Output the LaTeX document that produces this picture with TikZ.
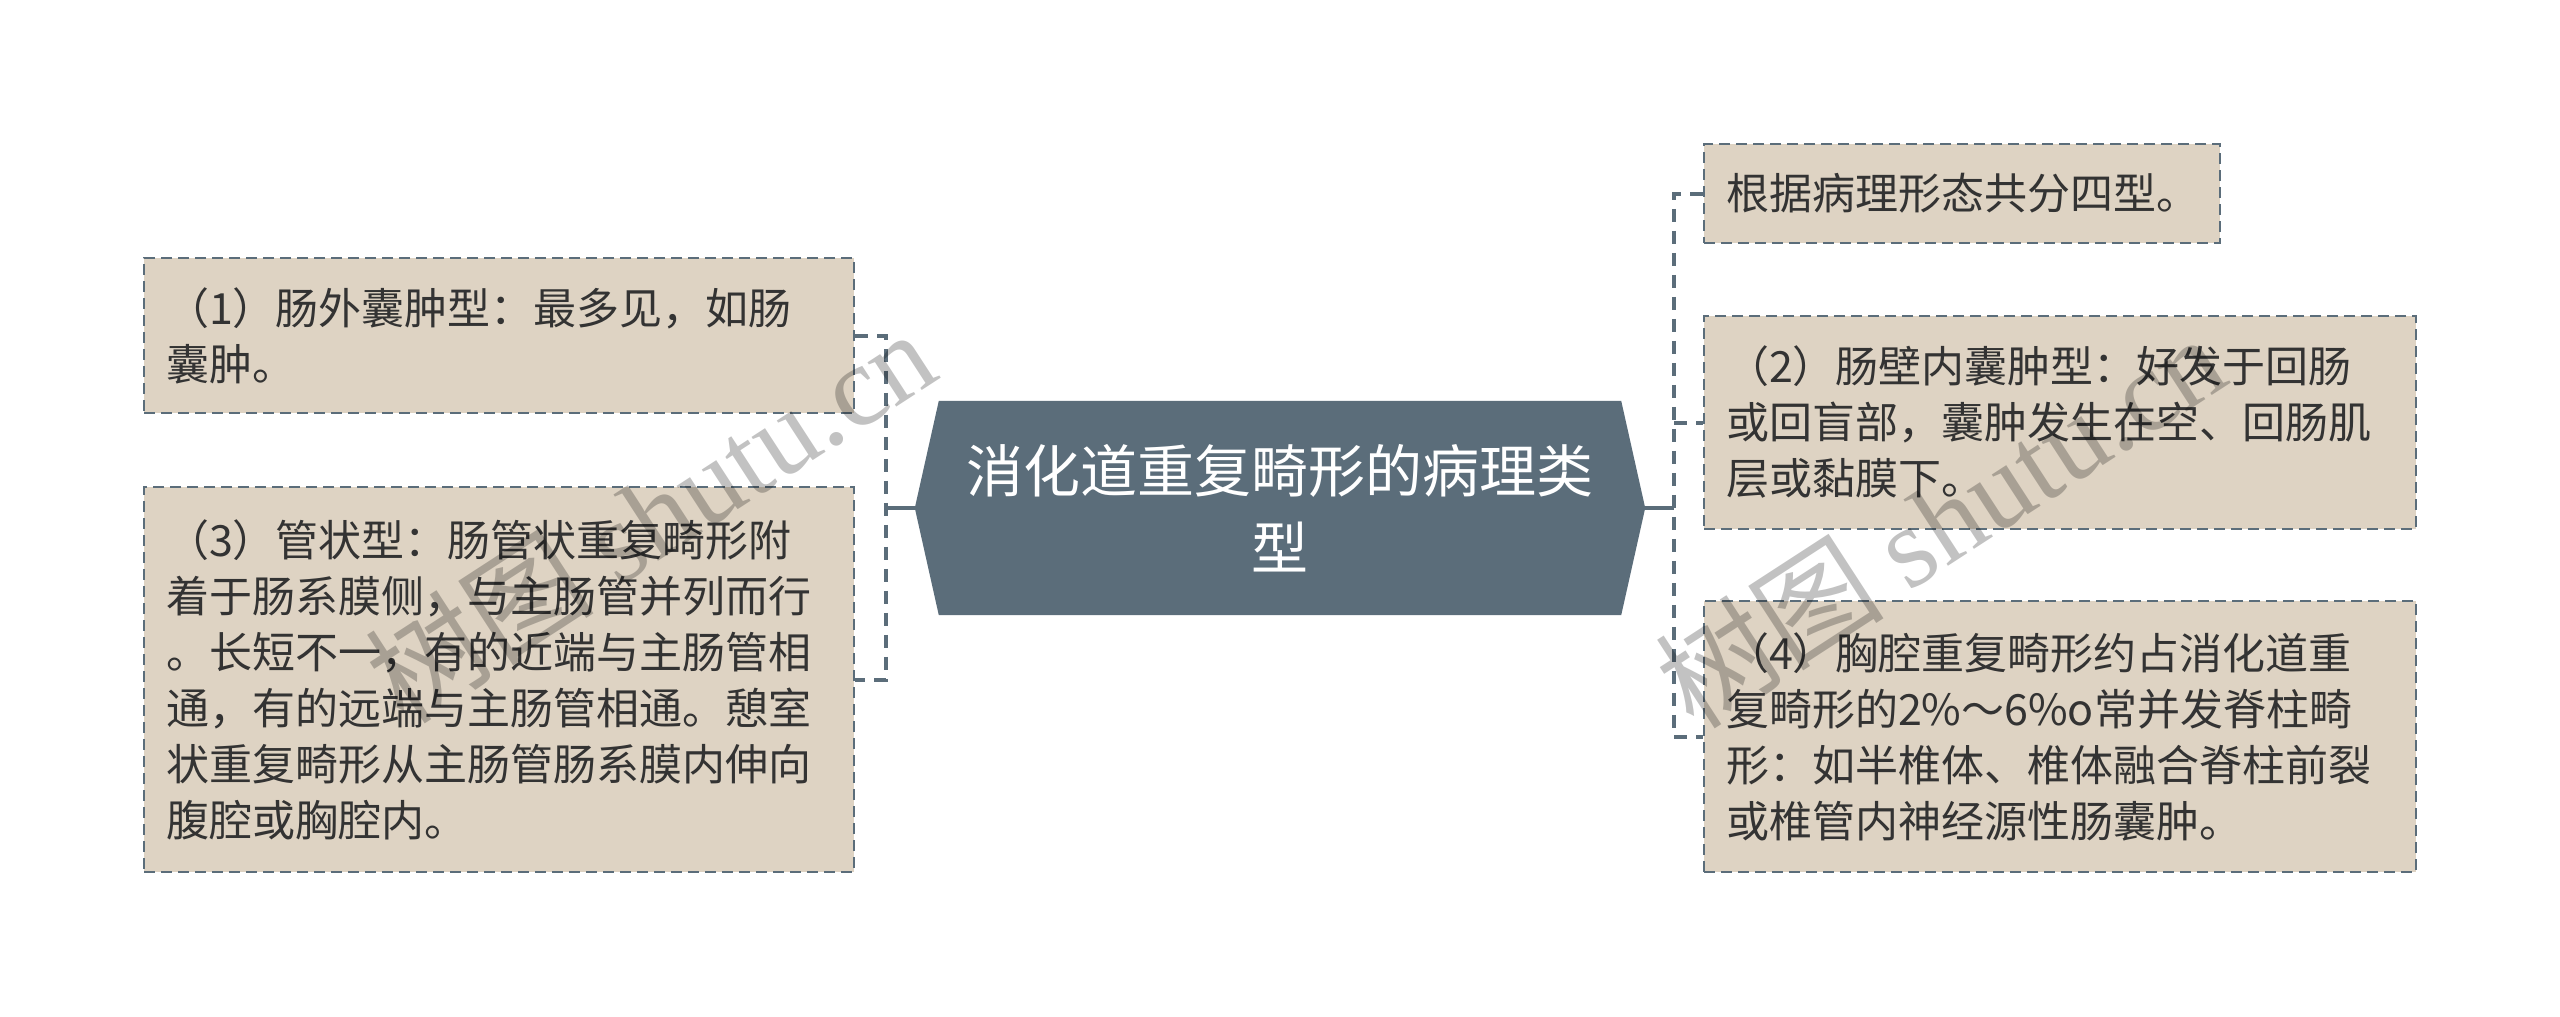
\documentclass[tikz,border=0pt]{standalone}
\usepackage{fontspec}
\setmainfont{Noto Sans CJK SC}
\newfontfamily\wmfont{Liberation Serif}
\newfontfamily\wmcjk{Noto Sans CJK SC}
\usetikzlibrary{backgrounds}
\definecolor{slate}{HTML}{5B6D7A}
\definecolor{beige}{HTML}{DED3C3}
\definecolor{txt}{HTML}{333333}
\begin{document}
\begin{tikzpicture}[x=1pt,y=-1pt,
  leaf/.style={draw=slate, fill=beige, line width=2.5pt, dash pattern=on 11pt off 6pt,
    inner xsep=22pt, inner ysep=0pt, align=left, text=txt,
    font=\fontsize{43}{56}\selectfont, anchor=center},
  hexnode/.style={minimum width=730pt, minimum height=214pt, inner sep=0pt,
    text width=690pt, align=center, text=white, font=\fontsize{57}{77}\selectfont},
  sconn/.style={draw=slate, line width=4pt},
  dconn/.style={draw=slate, line width=4pt, dash pattern=on 13pt off 9pt},
  wm/.style={text=black, text opacity=0.24, font=\fontsize{115}{115}\selectfont, inner sep=0pt}
]
\useasboundingbox (0,0) rectangle (2560,1017);

% central topic
\node[hexnode] (c) at (1280,508) {消化道重复畸形的病理类\\型};
\begin{pgfonlayer}{background}
\fill[white] (0,0) rectangle (2560,1017);
\fill[slate] (c.west) -- ([xshift=24pt]c.north west) -- ([xshift=-24pt]c.north east)
  -- (c.east) -- ([xshift=-24pt]c.south east) -- ([xshift=24pt]c.south west) -- cycle;
\end{pgfonlayer}

% left leaves
\node[leaf, text width=666pt, minimum height=155pt] (l1) at (499,335.5)
  {（1）肠外囊肿型：最多见，如肠\\囊肿。};
\node[leaf, text width=666pt, minimum height=385pt] (l3) at (499,679.5)
  {（3）管状型：肠管状重复畸形附\\着于肠系膜侧，与主肠管并列而行\\。长短不一，有的近端与主肠管相\\通，有的远端与主肠管相通。憩室\\状重复畸形从主肠管肠系膜内伸向\\腹腔或胸腔内。};

% right leaves
\node[leaf, text width=472pt, minimum height=99pt] (r0) at (1962,193.5)
  {根据病理形态共分四型。};
\node[leaf, text width=668pt, minimum height=213pt] (r2) at (2060,422.5)
  {（2）肠壁内囊肿型：好发于回肠\\或回盲部，囊肿发生在空、回肠肌\\层或黏膜下。};
\node[leaf, text width=668pt, minimum height=271pt] (r4) at (2060,736.5)
  {（4）胸腔重复畸形约占消化道重\\复畸形的2\%～6\%o常并发脊柱畸\\形：如半椎体、椎体融合脊柱前裂\\或椎管内神经源性肠囊肿。};

% junctions
\coordinate (jl) at (886,508);
\coordinate (jr) at (1674,508);

% connectors
\draw[sconn] (c.west) -- (jl);
\draw[dconn] (l1.east) -| (jl) |- (l3.east);
\draw[sconn] (c.east) -- (jr);
\draw[dconn] (r0.west) -| (jr) |- (r4.west);
\draw[dconn] (jr |- r2.west) -- (r2.west);

% watermarks
\node[wm, rotate=33] (wm1) at (650,515) {\wmcjk 树图 \wmfont shutu.cn};
\node[wm, rotate=33] (wm2) at (1940,520) {\wmcjk 树图 \wmfont shutu.cn};
\end{tikzpicture}
\end{document}
